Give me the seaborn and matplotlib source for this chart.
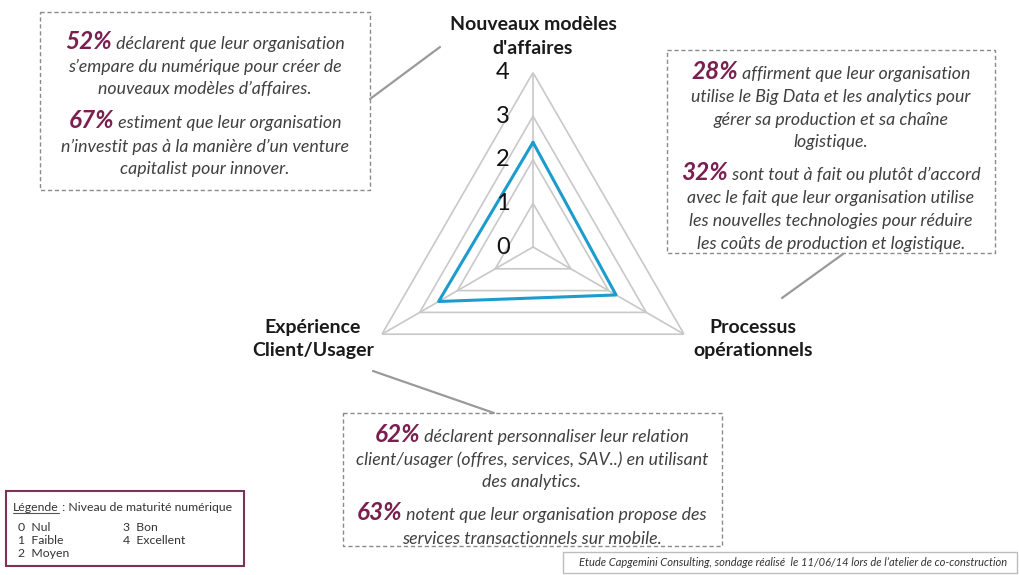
import numpy as np
import pandas as pd
import matplotlib
matplotlib.use("Agg")
import matplotlib.pyplot as plt
import seaborn as sns
from matplotlib.patches import Rectangle
from matplotlib.lines import Line2D
import matplotlib.transforms as mtransforms

# ---- data ----
categories = ["Nouveaux modèles\nd'affaires", "Processus\nopérationnels", "Expérience\nClient/Usager"]
values = [2.4, 2.2, 2.5]
levels = [0, 1, 2, 3, 4]
level_names = ["Nul", "Faible", "Moyen", "Bon", "Excellent"]

box_left = [("52%", " déclarent que leur organisation"),
            "s’empare du numérique pour créer de",
            "nouveaux modèles d’affaires.",
            ("67%", " estiment que leur organisation"),
            "n’investit pas à la manière d’un venture",
            "capitalist pour innover."]
box_right = [("28%", " affirment que leur organisation"),
             "utilise le Big Data et les analytics pour",
             "gérer sa production et sa chaîne",
             "logistique.",
             ("32%", " sont tout à fait ou plutôt d’accord"),
             "avec le fait que leur organisation utilise",
             "les nouvelles technologies pour réduire",
             "les coûts de production et logistique."]
box_bottom = [("62%", " déclarent personnaliser leur relation"),
              "client/usager (offres, services, SAV..) en utilisant",
              "des analytics.",
              ("63%", " notent que leur organisation propose des"),
              "services transactionnels sur mobile."]
source = "Etude Capgemini Consulting, sondage réalisé  le 11/06/14 lors de l’atelier de co-construction"

sns.set_theme(style="white")
plt.rcParams['font.family'] = ['Lato', 'DejaVu Sans']

W, H = 1019, 575
fig = plt.figure(figsize=(W / 100, H / 100), dpi=100)
fig.patch.set_facecolor('white')
px = mtransforms.Affine2D().scale(1 / W, -1 / H).translate(0, 1) + fig.transFigure

cx, cy, R = 533, 247, 174.4
ax = fig.add_axes([(cx - R) / W, (H - cy - R) / H, 2 * R / W, 2 * R / H], projection='polar')
ax.set_theta_zero_location('N')
ax.set_theta_direction(-1)

n = len(categories)
theta = np.arange(n) * 2 * np.pi / n
closed = np.append(theta, theta[0])
grid_col = '#c8c8c8'
for lv in levels[1:]:
    ax.plot(closed, [lv] * (n + 1), color=grid_col, lw=1.2, zorder=1)
for t in theta:
    ax.plot([t, t], [levels[0], levels[-1]], color=grid_col, lw=1.2, zorder=1)

df = pd.DataFrame({'theta': closed, 'r': values + [values[0]]})
sns.lineplot(data=df, x='theta', y='r', sort=False, estimator=None,
             color='#1c9ccc', lw=2.2, ax=ax, zorder=3)
ax.set_xlabel('')
ax.set_ylabel('')
ax.set_ylim(0, 4)
ax.grid(False)
ax.set_xticks([])
ax.set_yticks([])
ax.spines['polar'].set_visible(False)
ax.patch.set_alpha(0)

for lv in levels:
    ax.annotate(str(lv), xy=(0, lv), xytext=(-30, 0), textcoords='offset pixels',
                ha='center', va='center', fontsize=17, color='#111111')

label_offsets = [(0, 16, 'bottom'), (69, -5, 'center'), (-69, -5, 'center')]
for t, lab, (dx, dy, va) in zip(theta, categories, label_offsets):
    ax.annotate(lab, xy=(t, levels[-1]), xytext=(dx, dy), textcoords='offset pixels',
                ha='center', va=va, fontsize=14, fontweight='bold', color='#1a1a1a',
                linespacing=1.45, annotation_clip=False)

renderer = fig.canvas.get_renderer()
txt_col = '#404040'
pct_col = '#7a1f4f'


def draw_lines(lines, xc, ys):
    for line, y in zip(lines, ys):
        if isinstance(line, tuple):
            pct, rest = line
            t1 = fig.text(0, 0, pct, transform=px, fontsize=17.5, fontweight='bold',
                          fontstyle='italic', color=pct_col, ha='left', va='baseline')
            t2 = fig.text(0, 0, rest, transform=px, fontsize=12.8, fontstyle='italic',
                          color=txt_col, ha='left', va='baseline')
            w1 = t1.get_window_extent(renderer).width
            w2 = t2.get_window_extent(renderer).width
            x0 = xc - (w1 + w2) / 2
            t1.set_position((x0, y + 7))
            t2.set_position((x0 + w1, y + 7))
        else:
            fig.text(xc, y + 6, line, transform=px, fontsize=12.8, fontstyle='italic',
                     color=txt_col, ha='center', va='baseline')


def dashed_box(x0, y0, x1, y1):
    fig.patches.append(Rectangle((x0, y0), x1 - x0, y1 - y0, transform=px, fill=False,
                                 edgecolor='#8a8a8a', lw=1.0, ls=(0, (3, 2))))


def connector(x0, y0, x1, y1):
    fig.lines.append(Line2D([x0, x1], [y0, y1], transform=px, color='#9a9a9a', lw=1.6))


dashed_box(40, 12, 370, 190)
draw_lines(box_left, 205, [42, 66, 88, 121, 146, 168])
connector(370, 99, 440, 47)

dashed_box(667, 50, 995, 253)
draw_lines(box_right, 831, [72, 96, 119, 141, 173, 197, 220, 243])
connector(782, 298, 843, 254)

dashed_box(343, 413, 722, 546)
draw_lines(box_bottom, 532, [435, 459, 481, 513, 538])
connector(373, 371, 494, 413)

# legend
fig.patches.append(Rectangle((6, 491), 238, 75, transform=px, fill=False,
                             edgecolor='#7a3556', lw=1.5))
fs_leg = 8.8
tl = fig.text(13, 511, "Légende", transform=px, fontsize=fs_leg, color='#333333',
              ha='left', va='baseline')
wl = tl.get_window_extent(renderer).width
fig.lines.append(Line2D([13, 13 + wl], [513, 513], transform=px, color='#555555', lw=0.8))
fig.text(13 + wl, 511, " : Niveau de maturité numérique", transform=px, fontsize=fs_leg,
         color='#333333', ha='left', va='baseline')
leg_pos = [(18, 531), (18, 544), (18, 557), (123, 531), (123, 544)]
for lv, name, (x, y) in zip(levels, level_names, leg_pos):
    fig.text(x, y, f"{lv}  {name}", transform=px, fontsize=fs_leg, color='#333333',
             ha='left', va='baseline')

# source
fig.patches.append(Rectangle((563, 552), 454, 21, transform=px, fill=False,
                             edgecolor='#bdbdbd', lw=1.0))
fig.text(793, 566, source, transform=px, fontsize=8, fontstyle='italic',
         color='#333333', ha='center', va='baseline')

fig.savefig('out.png', dpi=100, facecolor='white')
